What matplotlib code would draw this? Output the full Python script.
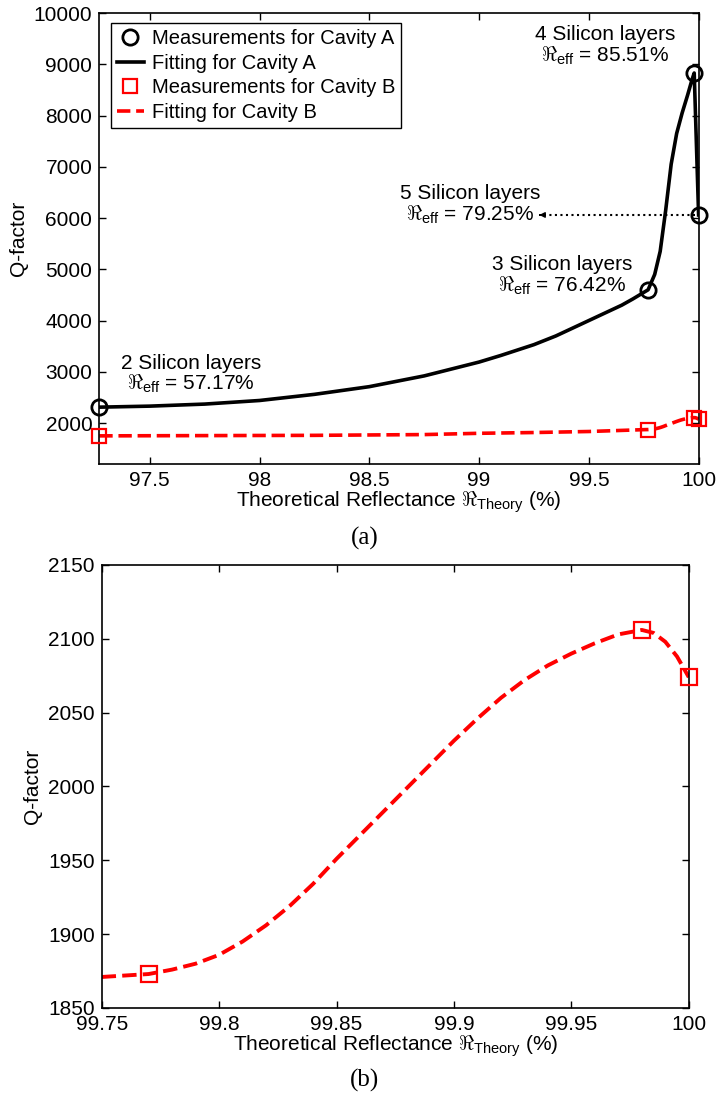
import matplotlib.pyplot as plt

plt.rcParams['font.family'] = ['Liberation Sans', 'DejaVu Sans']
plt.rcParams['mathtext.fontset'] = 'custom'
plt.rcParams['mathtext.rm'] = 'Liberation Sans'
plt.rcParams['mathtext.it'] = 'Liberation Sans:italic'
plt.rcParams['font.size'] = 15

# measured points (theoretical reflectance %, Q-factor)
refl_a = [97.27, 99.77, 99.98, 100.0]
q_a = [2310, 4600, 8830, 6060]
refl_b = [97.27, 99.77, 99.98, 100.0]
q_b = [1750, 1873, 2106, 2074]

# fitted curves
fit_a_x = [97.27, 97.5, 97.75, 98.0, 98.25, 98.5, 98.75, 99.0, 99.1, 99.25,
           99.35, 99.5, 99.6, 99.65, 99.7, 99.77, 99.8, 99.825, 99.85,
           99.875, 99.9, 99.925, 99.95, 99.97, 99.98, 100.0]
fit_a_q = [2310, 2330, 2370, 2440, 2560, 2710, 2920, 3190, 3320, 3530,
           3700, 4000, 4200, 4300, 4420, 4600, 4900, 5350, 6150,
           7050, 7650, 8050, 8400, 8700, 8830, 6060]
fit_b_x = [97.27, 97.75, 98.25, 98.75, 99.0, 99.25, 99.5, 99.75, 99.76,
           99.77, 99.78, 99.79, 99.8, 99.81, 99.82, 99.83, 99.84, 99.85,
           99.86, 99.87, 99.88, 99.89, 99.9, 99.91, 99.92, 99.93, 99.94,
           99.95, 99.96, 99.97, 99.98, 99.985, 99.99, 99.995, 100.0]
fit_b_q = [1750, 1755, 1760, 1775, 1800, 1815, 1835, 1871, 1872,
           1873, 1876, 1880, 1886, 1895, 1906, 1919, 1934, 1951,
           1967, 1983, 1999, 2015, 2031, 2046, 2060, 2072, 2082,
           2090, 2097, 2103, 2106, 2104, 2098, 2088, 2074]

xticks_a = [97.5, 98, 98.5, 99, 99.5, 100]
xlabels_a = ['97.5', '98', '98.5', '99', '99.5', '100']
yticks_a = [2000, 3000, 4000, 5000, 6000, 7000, 8000, 9000, 10000]
xticks_b = [99.75, 99.8, 99.85, 99.9, 99.95, 100]
xlabels_b = ['99.75', '99.8', '99.85', '99.9', '99.95', '100']
yticks_b = [1850, 1900, 1950, 2000, 2050, 2100, 2150]

xlab = 'Theoretical Reflectance $\\Re_{\\mathrm{Theory}}$ (%)'

fig = plt.figure(figsize=(7.16, 10.96), dpi=100)
ax1 = fig.add_axes([0.1387, 0.5766, 0.837, 0.4115])
ax2 = fig.add_axes([0.142, 0.0803, 0.820, 0.4042])

# (a)
ax1.plot(refl_a, q_a, 'o', color='k', mfc='none', ms=11, mew=2,
         clip_on=False, zorder=4, label='Measurements for Cavity A')
ax1.plot(fit_a_x, fit_a_q, '-', color='k', lw=2.6, label='Fitting for Cavity A')
ax1.plot(refl_b, q_b, 's', color='red', mfc='none', ms=10, mew=1.6,
         clip_on=False, zorder=4, label='Measurements for Cavity B')
ax1.plot(fit_b_x, fit_b_q, '--', color='red', lw=2.6, label='Fitting for Cavity B')

ax1.set_xlim(97.27, 100)
ax1.set_ylim(1200, 10000)
ax1.set_xticks(xticks_a)
ax1.set_xticklabels(xlabels_a)
ax1.set_yticks(yticks_a)
ax1.set_ylabel('Q-factor')
ax1.set_xlabel(xlab, labelpad=0)

ax1.text(99.574, 9357, '4 Silicon layers\n$\\Re_{\\mathrm{eff}}$ = 85.51%',
         ha='center', va='center', multialignment='center', linespacing=1.0)
ax1.text(99.379, 4872, '3 Silicon layers\n$\\Re_{\\mathrm{eff}}$ = 76.42%',
         ha='center', va='center', multialignment='center', linespacing=1.0)
ax1.text(98.96, 6257, '5 Silicon layers\n$\\Re_{\\mathrm{eff}}$ = 79.25%',
         ha='center', va='center', multialignment='center', linespacing=1.0)
ax1.text(97.687, 2942, '2 Silicon layers\n$\\Re_{\\mathrm{eff}}$ = 57.17%',
         ha='center', va='center', multialignment='center', linespacing=1.0)

# dotted arrow pointing at the 5-layer label
ax1.plot([99.985, 99.285], [6060, 6060], ':', color='k', lw=1.5)
ax1.annotate('', xy=(99.274, 6060), xytext=(99.29, 6060),
             arrowprops=dict(arrowstyle='-|>', color='k', lw=1,
                             mutation_scale=8))

leg = ax1.legend(loc='upper left', bbox_to_anchor=(0.02, 0.978),
                 borderaxespad=0, fancybox=False, edgecolor='k',
                 framealpha=1, handlelength=1.3, handletextpad=0.4,
                 borderpad=0.3, labelspacing=0.28, fontsize=14.5)
leg.get_frame().set_linewidth(1)

# (b)
ax2.plot(fit_b_x, fit_b_q, '--', color='red', lw=2.8)
ax2.plot(refl_b, q_b, 's', color='red', mfc='none', ms=11, mew=1.6,
         clip_on=False, zorder=4)
ax2.set_xlim(99.75, 100)
ax2.set_ylim(1850, 2150)
ax2.set_xticks(xticks_b)
ax2.set_xticklabels(xlabels_b)
ax2.set_yticks(yticks_b)
ax2.set_ylabel('Q-factor')
ax2.set_xlabel(xlab, labelpad=0)

for ax in (ax1, ax2):
    ax.tick_params(direction='in', top=True, right=True, length=5, width=1,
                   labelsize=15, pad=5)
    for s in ax.spines.values():
        s.set_linewidth(1.2)

fig.text(0.51, 1 - 538 / 1096, '(a)', ha='center', va='center',
         family='Liberation Serif', fontsize=18)
fig.text(0.509, 1 - 1080 / 1096, '(b)', ha='center', va='center',
         family='Liberation Serif', fontsize=18)

fig.savefig('out.png', dpi=100)
